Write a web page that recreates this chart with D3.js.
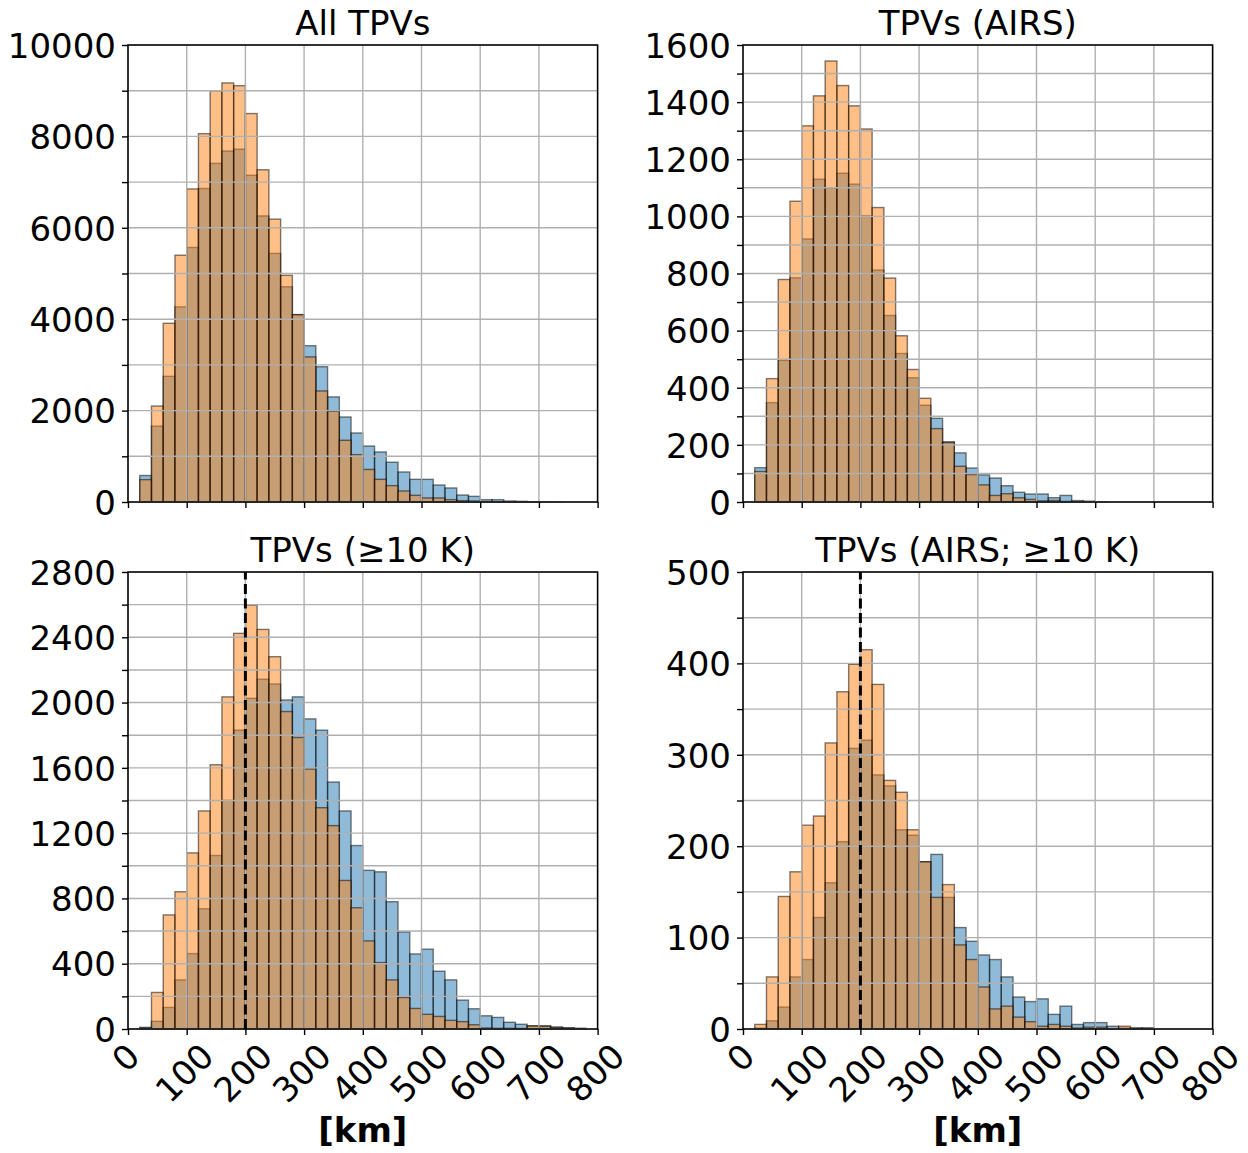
<!DOCTYPE html>
<html><head><meta charset="utf-8">
<script src="https://cdn.jsdelivr.net/npm/d3@7/dist/d3.min.js"></script>
<style>body{margin:0;background:#fff}</style>
</head><body>
<svg id="c" width="1248" height="1153"></svg>
<script>
// ---------- data ----------
const binStart = [20,40,60,80,100,120,140,160,180,200,220,240,260,280,300,320,340,360,380,400,
                  420,440,460,480,500,520,540,560,580,600,620,640,660,680,700,720,740,760,780];
const binWidth = 20;

const allBlue   = [580,1660,2750,4270,5570,6860,7410,7680,7720,7150,6260,5440,4710,4100,3420,2960,2300,1860,1510,1225,
                   1095,870,657,496,496,372,307,153,124,51,51,22,15,5,3,1,0,0,0];
const allOrange = [490,2100,3910,5400,6850,8060,9000,9170,9110,8500,7270,6190,4960,4100,3175,2430,1985,1350,1036,712,
                   496,358,241,146,88,88,51,29,22,7,5,3,2,1,0,0,0,0,0];

const airsBlue   = [120,348,496,785,921,1130,1100,1151,1113,1002,812,653,520,435,339,293,211,172,119,95,
                    84,57,34,28,28,15,23,5,3,1,0,0,0,0,0,0,0,0,0];
const airsOrange = [107,432,779,1053,1317,1422,1544,1458,1387,1306,1031,784,582,464,363,257,208,125,96,60,
                    23,29,15,9,4,5,2,1,0,0,0,0,0,0,0,0,0,0,0];

const strongBlue   = [10,47,132,301,462,737,1063,1401,1831,2026,2143,2114,2016,2035,1900,1831,1513,1336,1124,972,
                      963,780,595,460,489,354,301,177,124,81,71,41,29,20,20,12,8,5,0];
const strongOrange = [6,224,699,841,1079,1336,1619,2035,2424,2597,2448,2281,1945,1786,1593,1356,1246,910,743,540,
                      407,301,193,126,90,77,53,45,26,6,4,4,3,18,16,10,5,1,0];

const airsStrongBlue   = [1,9,24,57,76,122,160,205,307,316,278,266,218,212,183,191,144,111,96,81,
                          76,57,35,30,33,16,25,5,7,7,3,1,1,1,0,0,0,0,0];
const airsStrongOrange = [5,57,145,172,223,233,313,369,399,415,377,272,259,218,183,144,158,92,76,46,
                          22,25,13,8,3,5,3,1,2,2,0,3,1,1,0,0,0,0,0];

const xTicks = [0,100,200,300,400,500,600,700,800];
const yTicksAll    = [0,1000,2000,3000,4000,5000,6000,7000,8000,9000,10000];
const yLabelsAll   = [0,2000,4000,6000,8000,10000];
const yTicksAirs   = [0,100,200,300,400,500,600,700,800,900,1000,1100,1200,1300,1400,1500,1600];
const yLabelsAirs  = [0,200,400,600,800,1000,1200,1400,1600];
const yTicksStrong = [0,200,400,600,800,1000,1200,1400,1600,1800,2000,2200,2400,2600,2800];
const yLabelsStrong= [0,400,800,1200,1600,2000,2400,2800];
const yTicksAS     = [0,50,100,150,200,250,300,350,400,450,500];
const yLabelsAS    = [0,100,200,300,400,500];
const titles = ["All TPVs","TPVs (AIRS)","TPVs (\u226510 K)","TPVs (AIRS; \u226510 K)"];
const dashedAt = 200;
const xLabel = "[km]";

// ---------- layout ----------
const FONT = "'DejaVu Sans', sans-serif";
const FS = 34;
const panels = [
  {title:titles[0], blue:allBlue, orange:allOrange, ticks:yTicksAll, labels:yLabelsAll, x0:128, y0:45, bottom:false, dashed:false},
  {title:titles[1], blue:airsBlue, orange:airsOrange, ticks:yTicksAirs, labels:yLabelsAirs, x0:743, y0:45, bottom:false, dashed:false},
  {title:titles[2], blue:strongBlue, orange:strongOrange, ticks:yTicksStrong, labels:yLabelsStrong, x0:128, y0:572, bottom:true, dashed:true},
  {title:titles[3], blue:airsStrongBlue, orange:airsStrongOrange, ticks:yTicksAS, labels:yLabelsAS, x0:743, y0:572, bottom:true, dashed:true}
];
const PW = 469.6, PH = 457;

const svg = d3.select("#c");

panels.forEach(p => {
  const x = d3.scaleLinear().domain([xTicks[0], xTicks[xTicks.length-1]]).range([p.x0, p.x0+PW]);
  const y = d3.scaleLinear().domain([0, p.ticks[p.ticks.length-1]]).range([p.y0+PH, p.y0]);
  const g = svg.append("g");

  const drawBars = (vals, fill) => {
    g.append("g").selectAll("rect")
      .data(binStart.map((b,i)=>({b, v:vals[i]})).filter(d=>d.v>0))
      .join("rect")
      .attr("x", d=>x(d.b)).attr("width", d=>x(d.b+binWidth)-x(d.b))
      .attr("y", d=>y(d.v)).attr("height", d=>y(0)-y(d.v))
      .attr("fill", fill)
      .attr("stroke", "rgba(0,0,0,0.5)").attr("stroke-width", 1.4);
  };
  drawBars(p.blue, "rgba(31,119,180,0.5)");
  drawBars(p.orange, "rgba(255,127,14,0.5)");

  // grid
  const grid = g.append("g").attr("stroke", "#b0b0b0").attr("stroke-width", 1.4);
  grid.selectAll("line.v").data(xTicks).join("line").attr("class","v")
    .attr("x1", d=>x(d)).attr("x2", d=>x(d)).attr("y1", p.y0).attr("y2", p.y0+PH);
  grid.selectAll("line.h").data(p.ticks).join("line").attr("class","h")
    .attr("x1", p.x0).attr("x2", p.x0+PW).attr("y1", d=>y(d)).attr("y2", d=>y(d));

  if (p.dashed) {
    g.append("line").attr("x1", x(dashedAt)).attr("x2", x(dashedAt))
      .attr("y1", p.y0+PH).attr("y2", p.y0)
      .attr("stroke", "#000").attr("stroke-width", 3).attr("stroke-dasharray", "10,4.5");
  }

  // frame
  g.append("rect").attr("x", p.x0).attr("y", p.y0).attr("width", PW).attr("height", PH)
    .attr("fill", "none").attr("stroke", "#000").attr("stroke-width", 1.5);

  // y axis
  const ya = g.append("g").attr("transform", `translate(${p.x0},0)`)
    .call(d3.axisLeft(y).tickValues(p.ticks).tickSize(6).tickPadding(6)
      .tickFormat(d => p.labels.includes(d) ? String(d) : ""));
  ya.select(".domain").remove();
  ya.selectAll("line").attr("stroke", "#000").attr("stroke-width", 1.4);
  ya.selectAll("text").attr("font-family", FONT).attr("font-size", FS).attr("fill", "#000").attr("dy", "0.36em");

  // x axis
  const xa = g.append("g").attr("transform", `translate(0,${p.y0+PH})`)
    .call(d3.axisBottom(x).tickValues(xTicks).tickSize(6).tickPadding(6)
      .tickFormat(d => p.bottom ? String(d) : ""));
  xa.select(".domain").remove();
  xa.selectAll("line").attr("stroke", "#000").attr("stroke-width", 1.4);
  xa.selectAll("text").attr("font-family", FONT).attr("font-size", FS).attr("fill", "#000")
    .attr("y", null).attr("dy", "0.36em").attr("text-anchor", "middle")
    .each(function() {
      const w = this.getComputedTextLength();
      const off = 12 + (w + 25) / 2.83;
      d3.select(this).attr("transform", `translate(-3,${off}) rotate(-45)`);
    });

  // title
  g.append("text").attr("x", p.x0+PW/2).attr("y", p.y0-10)
    .attr("text-anchor", "middle").attr("font-family", FONT).attr("font-size", FS).attr("fill", "#000")
    .text(p.title);

  if (p.bottom) {
    g.append("text").attr("x", p.x0+PW/2).attr("y", 1142)
      .attr("text-anchor", "middle").attr("font-family", FONT).attr("font-size", FS)
      .attr("font-weight", "bold").attr("fill", "#000").text(xLabel);
  }
});
</script>
</body></html>
